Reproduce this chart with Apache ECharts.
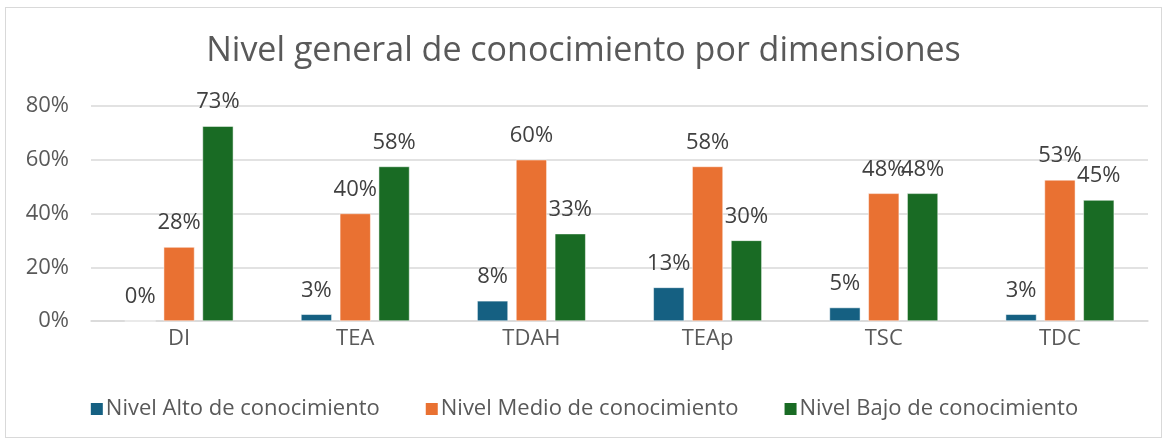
<!DOCTYPE html>
<html>
<head>
<meta charset="utf-8">
<script src="https://cdn.jsdelivr.net/npm/echarts@6/dist/echarts.min.js"></script>
<style>
  html, body { margin: 0; padding: 0; background: #fff; }
  #chart {
    position: absolute;
    left: 5px; top: 7px;
    width: 1157px; height: 431px;
    border: 1px solid #d9d9d9;
    box-sizing: border-box;
  }
</style>
</head>
<body>
<div id="chart"></div>
<script>
const categories = ['DI', 'TEA', 'TDAH', 'TEAp', 'TSC', 'TDC']
const nivelAlto = [0, 2.5, 7.5, 12.5, 5, 2.5]
const nivelMedio = [27.5, 40, 60, 57.5, 47.5, 52.5]
const nivelBajo = [72.5, 57.5, 32.5, 30, 47.5, 45]
const seriesNames = ['Nivel Alto de conocimiento', 'Nivel Medio de conocimiento', 'Nivel Bajo de conocimiento']
const seriesColors = ['#156082', '#e97132', '#196b24']

const FONT = 'Open Sans'
const chart = echarts.init(document.getElementById('chart'))

function makeSeries(name, data, color) {
  return {
    name: name,
    type: 'bar',
    data: data,
    barWidth: '17.5%',
    barGap: '26%',
    itemStyle: { color: color, borderColor: '#fff', borderWidth: 0.5 },
    label: {
      show: true,
      position: 'top',
      distance: 13,
      color: '#404040',
      fontSize: 22,
      fontFamily: FONT,
      formatter: p => Math.round(p.value) + '%'
    }
  }
}

chart.setOption({
  animation: false,
  title: {
    text: 'Nivel general de conocimiento por dimensiones',
    left: 'center',
    top: 21,
    textStyle: { color: '#595959', fontSize: 34, fontWeight: 'normal', fontFamily: FONT }
  },
  legend: {
    data: seriesNames,
    bottom: 12,
    left: 'center',
    icon: 'rect',
    itemWidth: 14,
    itemHeight: 14,
    itemGap: 44,
    textStyle: { color: '#595959', fontSize: 22, fontFamily: FONT, padding: [0, 0, 0, -3] }
  },
  grid: { left: 85, right: 13, top: 98, bottom: 116 },
  xAxis: {
    type: 'category',
    data: categories,
    axisLine: { lineStyle: { color: '#d9d9d9', width: 1.5 } },
    axisTick: { show: false },
    axisLabel: { color: '#595959', fontSize: 22, fontFamily: FONT, margin: 7 }
  },
  yAxis: {
    type: 'value',
    min: 0,
    max: 80,
    interval: 20,
    axisLine: { show: false },
    axisTick: { show: false },
    splitLine: { lineStyle: { color: '#d9d9d9', width: 1.5 } },
    axisLabel: { color: '#595959', fontSize: 22, fontFamily: FONT, margin: 22, formatter: '{value}%' }
  },
  series: [
    makeSeries(seriesNames[0], nivelAlto, seriesColors[0]),
    makeSeries(seriesNames[1], nivelMedio, seriesColors[1]),
    makeSeries(seriesNames[2], nivelBajo, seriesColors[2])
  ]
})
</script>
</body>
</html>
